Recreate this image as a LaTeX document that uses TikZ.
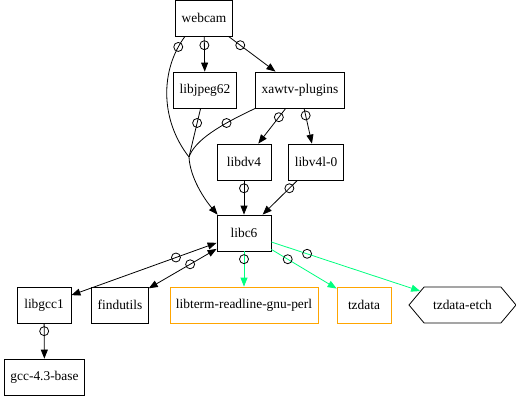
\documentclass[tikz,border=0pt]{standalone}
\usepackage{fontspec}
\setmainfont{Liberation Serif}
\usetikzlibrary{arrows.meta,shapes.geometric,shapes.symbols}
\definecolor{depgreen}{RGB}{0,255,127}
\definecolor{recorange}{RGB}{255,165,0}
\tikzset{
  pkg/.style={draw,rectangle,minimum height=36pt,minimum width=54pt,inner xsep=6pt,line width=.8pt},
  hexa/.style={draw,shape=signal,signal to=west and east,signal pointer angle=100,minimum height=36pt,minimum width=107pt,inner xsep=2pt,line width=.8pt},
  ocirc/.style={draw=black,circle,inner sep=0pt,minimum size=9pt,line width=.8pt},
  dep/.style={-{Triangle[length=9pt,width=7pt]},line width=.8pt},
  bidep/.style={{Triangle[length=9pt,width=7pt]}-{Triangle[length=9pt,width=7pt]},line width=.8pt}
}

\begin{document}
\begin{tikzpicture}[x=1pt,y=-1pt,every node/.style={font=\fontsize{13.4}{16}\selectfont}]
      \useasboundingbox (0,0) rectangle (516,396);
      \node[pkg] (webcam) at (204,18) {webcam};
      \node[pkg] (libjpeg) at (205,90) {libjpeg62};
      \node[pkg] (xawtv) at (300,90) {xawtv-plugins};
      \node[pkg] (libdv) at (244,162) {libdv4};
      \node[pkg] (libvfl) at (316,162) {libv4l-0};
      \node[pkg] (libc) at (244,233) {libc6};
      \node[pkg] (libgcc) at (44,305) {libgcc1};
      \node[pkg] (findutils) at (120,305) {findutils};
      \node[pkg,draw=recorange] (readline) at (244,305) {libterm-readline-gnu-perl};
      \node[pkg,draw=recorange] (tzdata) at (364,305) {tzdata};
      \node[hexa] (tzetch) at (462.5,305) {tzdata-etch};
      \node[pkg] (gccbase) at (44.5,377) {gcc-4.3-base};
      \coordinate (merge) at (189,157);
      \draw[dep] (webcam) -- node[ocirc,pos=.25]{} (libjpeg);
      \draw[dep] (webcam) -- node[ocirc,pos=.25]{} (xawtv);
      \draw[line width=.8pt] ([xshift=-19pt]webcam.south) .. controls (160,70) and (160,120) .. (merge) node[ocirc,pos=.1]{};
      \draw[line width=.8pt] (libjpeg) -- node[ocirc,pos=.3]{} (merge);
      \draw[line width=.8pt] (xawtv.south west) .. controls (220,125) and (195,140) .. (merge) node[ocirc,pos=.3]{};
      \draw[dep] (merge) .. controls (190,178) and (205,200) .. ([xshift=1pt]libc.north west);
      \draw[dep] (xawtv) -- node[ocirc,pos=.25]{} (libdv);
      \draw[dep] (xawtv) -- node[ocirc,pos=.2]{} (libvfl);
      \draw[dep] (libdv) -- node[ocirc,pos=.23]{} (libc);
      \draw[dep] (libvfl) -- node[ocirc,pos=.23]{} (libc);
      \draw[bidep] (libc) -- node[ocirc,pos=.28]{} (libgcc);
      \draw[bidep] (libc) -- node[ocirc,pos=.39]{} (findutils);
      \draw[dep,depgreen] (libc) -- node[ocirc,pos=.22]{} (readline);
      \draw[dep,depgreen] (libc) -- node[ocirc,pos=.25]{} (tzdata);
      \draw[dep,depgreen] (libc) -- node[ocirc,pos=.24]{} (tzetch);
      \draw[dep] (libgcc) -- node[ocirc,pos=.22]{} (gccbase);
    \end{tikzpicture}
\end{document}
